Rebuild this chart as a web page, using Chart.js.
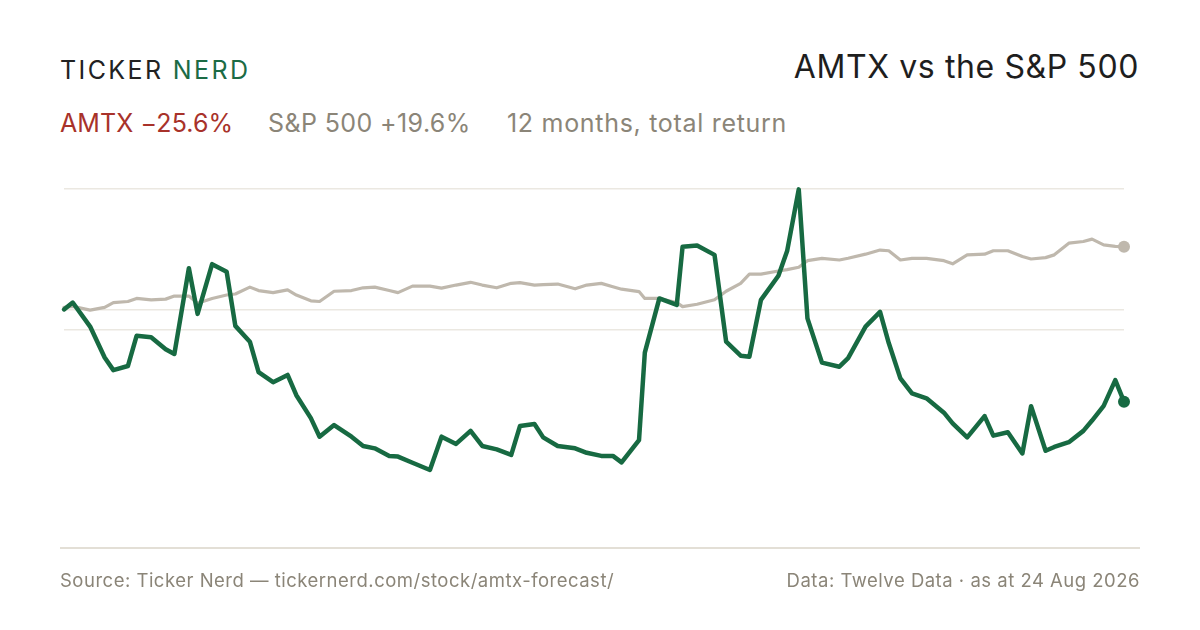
<!DOCTYPE html>
<html>
<head>
<meta charset="utf-8">
<script src="https://cdn.jsdelivr.net/npm/chart.js@4.4.1/dist/chart.umd.min.js"></script>
<style>
  html, body { margin:0; padding:0; background:#ffffff; }
  body { width:1200px; height:630px; position:relative; overflow:hidden; font-family: Inter, "Noto Sans", sans-serif; }
  .abs { position:absolute; white-space:nowrap; }
  #brand { left:60px; top:54px; font-size:25px; letter-spacing:2.4px; color:#222222; line-height:32px; }
  #brand .g { color:#1b6b45; }
  #title { right:61px; top:47px; font-size:32px; color:#1e1e1e; line-height:40px; letter-spacing:0.6px; }
  .sub { top:107px; font-size:25px; line-height:32px; color:#8b8578; letter-spacing:0.4px; }
  #s1 { left:60px; color:#a8322a; letter-spacing:0.1px; }
  #s2 { left:268px; }
  #s3 { left:507px; letter-spacing:0.7px; }
  #rule { left:60px; top:547px; width:1080px; height:2px; background:#e3dfd6; }
  .foot { top:567px; font-size:18.5px; color:#8b8578; line-height:26px; letter-spacing:0.5px; }
  #src { left:60px; }
  #dat { right:60px; }
  #wrap { position:absolute; left:0; top:0; width:1200px; height:630px; }
</style>
</head>
<body>
<div id="brand" class="abs">TICKER <span class="g">NERD</span></div>
<div id="title" class="abs">AMTX vs the S&amp;P 500</div>
<div id="s1" class="abs sub">AMTX −25.6%</div>
<div id="s2" class="abs sub">S&amp;P 500 +19.6%</div>
<div id="s3" class="abs sub">12 months, total return</div>
<div id="wrap"><canvas id="c" width="1200" height="630"></canvas></div>
<div id="rule" class="abs"></div>
<div id="src" class="abs foot">Source: Ticker Nerd — tickernerd.com/stock/amtx-forecast/</div>
<div id="dat" class="abs foot">Data: Twelve Data · as at 24 Aug 2026</div>
<script>
// Calendar days since the start of the 12-month window
const days = [0,3,9,14,17,22,25,30,35,38,43,46,51,56,59,64,67,72,77,80,85,88,93,99,103,107,112,115,120,126,130,135,140,144,149,154,157,162,165,170,176,180,185,189,192,198,200,205,211,213,218,224,228,233,236,240,246,249,253,256,261,267,270,276,281,284,288,292,297,303,306,311,317,320,325,330,333,338,341,346,351,354,358,362,365];
// AMTX total return (%)
const amtx = [1.3,3.3,-3.7,-12.7,-16.4,-15.2,-6.4,-6.8,-10.3,-11.7,13.3,0.0,14.5,12.3,-3.5,-8.1,-17.0,-19.9,-17.8,-23.7,-30.4,-35.8,-32.4,-35.8,-38.5,-39.2,-41.4,-41.6,-43.4,-45.5,-35.8,-37.9,-34.1,-38.5,-39.5,-41.1,-32.7,-32.1,-36.0,-38.5,-39.2,-40.5,-41.4,-41.4,-43.3,-36.8,-11.3,4.5,2.6,19.6,19.9,17.2,-8.1,-12.2,-12.5,4.1,11.1,18.3,36.3,-1.3,-14.2,-15.4,-12.9,-3.7,0.6,-8.5,-18.8,-23.2,-24.6,-28.8,-31.9,-36.0,-29.8,-35.5,-34.5,-40.7,-26.9,-39.9,-38.8,-37.4,-34.1,-31.1,-26.8,-19.3,-25.6];
// S&P 500 total return (%)
const spx = [1.9,2.2,1.1,1.9,3.3,3.6,4.5,4.1,4.3,5.2,5.2,3.1,4.5,5.5,5.8,7.8,6.8,6.2,7.0,5.5,3.8,3.6,6.6,6.8,7.6,7.8,6.8,6.2,8.1,8.1,7.5,8.4,9.2,8.4,7.6,8.9,9.1,8.4,8.5,8.7,7.3,8.4,8.9,7.9,7.2,6.5,4.5,4.5,3.3,2.1,2.8,4.1,6.6,8.9,11.6,11.6,12.5,12.9,13.6,15.5,16.2,15.7,16.2,17.4,18.6,18.4,15.7,16.2,16.2,15.5,14.6,17.2,17.4,18.4,18.4,16.7,16.0,16.4,17.2,20.6,21.1,21.8,20.1,19.7,19.6];
// Horizontal reference lines (%)
const gridValues = [36.4, 1.1, -4.6];
const yMin = -63.0, yMax = 36.4;

const GREEN = '#176a42', GREY = '#bfb8ad';
function pts(vals){ return vals.map((v,i)=>({x:days[i], y:v})); }
function lastOnly(){ return (ctx)=> ctx.dataIndex === days.length-1 ? 6 : 0; }

new Chart(document.getElementById('c'), {
  type: 'line',
  data: {
    datasets: [
      { label:'AMTX', data: pts(amtx), borderColor: GREEN, backgroundColor: GREEN, borderWidth: 4.5,
        pointRadius: lastOnly(), pointHoverRadius: 0, pointBorderWidth: 0, tension: 0, clip: false,
        borderJoinStyle:'round', borderCapStyle:'round', order: 1 },
      { label:'S&P 500', data: pts(spx), borderColor: GREY, backgroundColor: GREY, borderWidth: 3.2,
        pointRadius: lastOnly(), pointHoverRadius: 0, pointBorderWidth: 0, tension: 0, clip: false,
        borderJoinStyle:'round', borderCapStyle:'round', order: 2 }
    ]
  },
  options: {
    responsive: false, animation: false, devicePixelRatio: 1,
    layout: { padding: { left: 64, right: 76, top: 189, bottom: 100 } },
    plugins: { legend: { display:false }, tooltip: { enabled:false } },
    scales: {
      x: { type:'linear', min: days[0], max: days[days.length-1], display: false },
      y: { min: yMin, max: yMax,
           afterBuildTicks: (ax)=>{ ax.ticks = gridValues.map(v=>({value:v})); },
           ticks: { display:false },
           border: { display:false },
           grid: { color:'#ebe8e1', lineWidth: 1.5, drawTicks:false } }
    }
  }
});
</script>
</body>
</html>
